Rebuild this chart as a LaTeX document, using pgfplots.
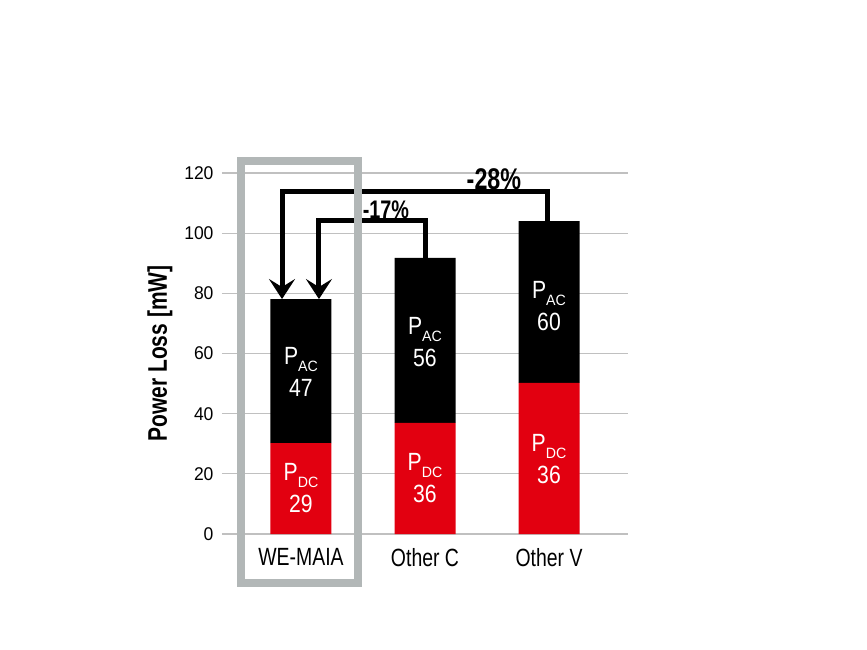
\documentclass[border=0pt]{standalone}
\usepackage{fontspec}
\setmainfont{Liberation Sans}[FakeStretch=0.78]
\newfontfamily\tickfont{Liberation Sans}[FakeStretch=0.95]
\newfontfamily\inbarfont{Liberation Sans}[FakeStretch=0.85]
\usepackage{pgfplots}
\pgfplotsset{compat=1.18}
\usetikzlibrary{arrows.meta}
\definecolor{wred}{RGB}{226,0,16}
\definecolor{boxgray}{RGB}{178,183,183}
\definecolor{gridgray}{RGB}{192,192,192}
\newcommand{\plab}[2]{P\raisebox{-7bp}{\tickfont\fontsize{15}{15}\selectfont #1}\\#2}
\begin{document}
\begin{tikzpicture}
\begin{axis}[
  scale only axis, width=406bp, height=361bp,
  xmin=-0.637, xmax=2.637, ymin=0, ymax=120,
  ybar stacked, bar width=61bp,
  xtick=data, xticklabels={WE-MAIA,Other C,Other V},
  ytick={0,20,...,120},
  ymajorgrids, grid style={gridgray, line width=1.2bp},
  axis line style={draw=none}, major tick length=0pt,
  yticklabel style={font=\tickfont\fontsize{18.5}{18.5}\selectfont, xshift=-5bp},
  xticklabel style={font=\fontsize{25}{25}\selectfont, yshift=-11bp},
  /pgf/number format/assume math mode=true,
  ylabel={Power Loss [mW]},
  ylabel style={font=\fontsize{27}{27}\selectfont\bfseries, at={(axis description cs:0,0.5)}, anchor=center, yshift=62bp},
  clip=false,
]
\addplot[fill=wred, draw=none] coordinates {(0,30.2) (1,36.9) (2,50.2)};
\addplot[fill=black, draw=none] coordinates {(0,47.9) (1,54.9) (2,53.8)};

\draw[boxgray, line width=8bp] (axis cs:-0.484,-16.3) rectangle (axis cs:0.46,124);

\draw[line width=5bp, -{Stealth[length=20bp,width=26bp,inset=8bp]}]
  (axis cs:1.99,104) -- (axis cs:1.99,113.7) -- (axis cs:-0.153,113.7) -- (axis cs:-0.153,78.1);
\draw[line width=5bp, -{Stealth[length=20bp,width=26bp,inset=8bp]}]
  (axis cs:1.0,91.8) -- (axis cs:1.0,104.1) -- (axis cs:0.145,104.1) -- (axis cs:0.145,78.1);

\node[font=\fontsize{30}{30}\selectfont\bfseries, inner sep=0] at (axis cs:1.556,118) {-28\%};
\node[font=\fontsize{25.5}{25.5}\selectfont\bfseries, inner sep=0] at (axis cs:0.685,107.7) {-17\%};

\coordinate (a0) at (axis cs:0,53.9);
\coordinate (d0) at (axis cs:0,15.3);
\coordinate (a1) at (axis cs:1,63.8);
\coordinate (d1) at (axis cs:1,18.6);
\coordinate (a2) at (axis cs:2,75.8);
\coordinate (d2) at (axis cs:2,24.9);
\end{axis}
\begin{scope}[every node/.style={text=white, align=center, inner sep=0, font=\inbarfont\fontsize{25}{32}\selectfont}]
\node at (a0) {\plab{AC}{47}};
\node at (d0) {\plab{DC}{29}};
\node at (a1) {\plab{AC}{56}};
\node at (d1) {\plab{DC}{36}};
\node at (a2) {\plab{AC}{60}};
\node at (d2) {\plab{DC}{36}};
\end{scope}
\pgfresetboundingbox
\path[use as bounding box] (-222bp,-116bp) rectangle (645bp,534bp);
\end{tikzpicture}
\end{document}
